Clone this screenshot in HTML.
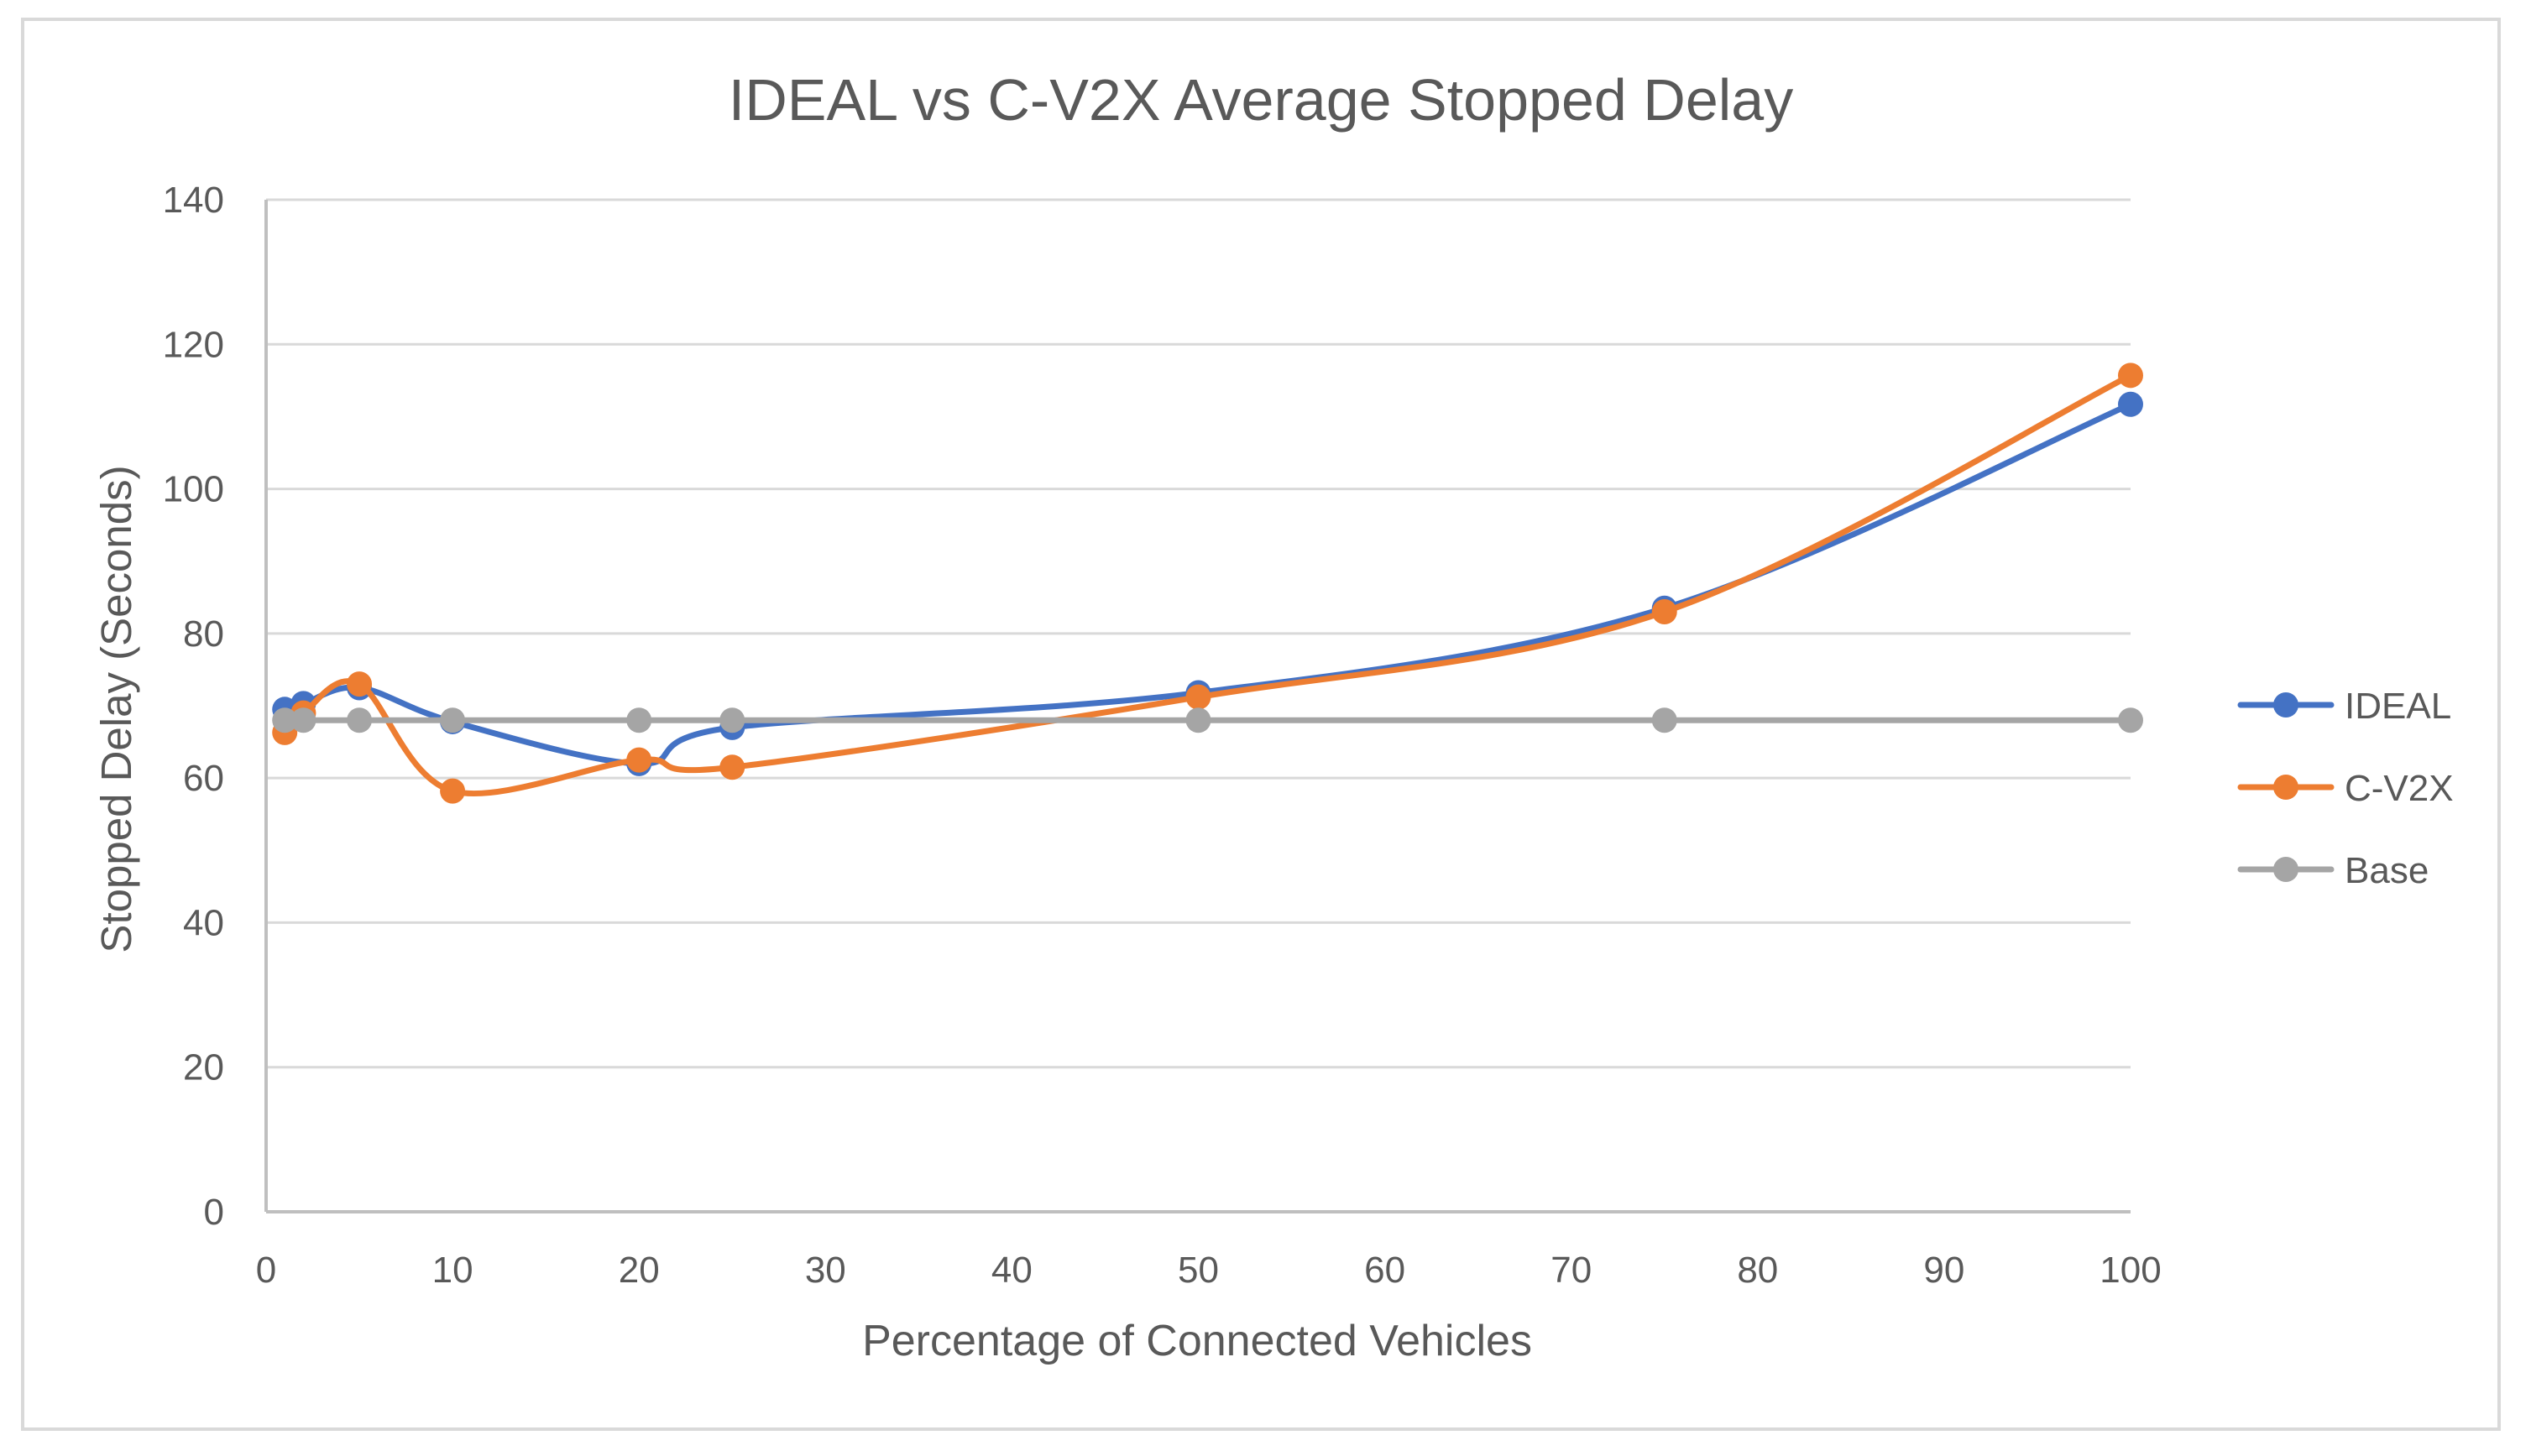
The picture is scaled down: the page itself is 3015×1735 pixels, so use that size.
<!DOCTYPE html>
<html><head><meta charset="utf-8"><style>
html,body{margin:0;padding:0;background:#fff;}
svg{display:block;}
text{font-family:"Liberation Sans",sans-serif;fill:#595959;}
</style></head><body>
<svg id="chart" width="3015" height="1735" viewBox="0 0 3015 1735">
<rect x="27" y="23" width="2950" height="1680" fill="#fff" stroke="#d9d9d9" stroke-width="4"/>
<text x="1502" y="143" font-size="70" text-anchor="middle">IDEAL vs C-V2X Average Stopped Delay</text>
<g id="grid"></g>
<g id="series"></g>
<text x="1426" y="1615" font-size="52" text-anchor="middle">Percentage of Connected Vehicles</text>
<text transform="translate(156,845) rotate(-90)" font-size="51" text-anchor="middle">Stopped Delay (Seconds)</text>
<g id="legend"></g>
</svg>
<script>
const xValues=[1,2,5,10,20,25,50,75,100];
const idealValues=[69.5,70.3,72.5,67.8,62,67,71.8,83.5,111.7];
const cv2xValues=[66.3,69,73,58.2,62.5,61.5,71.2,83,115.7];
const baseValues=[68,68,68,68,68,68,68,68,68];
const xTicks=[0,10,20,30,40,50,60,70,80,90,100];
const yTicks=[0,20,40,60,80,100,120,140];
const seriesNames=["IDEAL","C-V2X","Base"];

const NS="http://www.w3.org/2000/svg";
const L=317,R=2538,T=238,B=1444;
const sx=v=>L+(v-0)/(100-0)*(R-L);
const sy=v=>B-(v-0)/(140-0)*(B-T);
function mk(tag,attrs,parent){const e=document.createElementNS(NS,tag);for(const k in attrs)e.setAttribute(k,attrs[k]);parent.appendChild(e);return e;}
const grid=document.getElementById('grid');
yTicks.forEach(t=>{
  const ln=mk('line',{x1:L,x2:R,y1:sy(t),y2:sy(t),stroke:t===0?'#bfbfbf':'#d9d9d9','stroke-width':t===0?4:3},grid);
  
  
  const tx=mk('text',{x:267,y:sy(t)+15,'font-size':44,'text-anchor':'end'},grid);
  tx.textContent=t;
  
  
});
const ax=mk('line',{x1:L,x2:L,y1:T,y2:B,stroke:'#bfbfbf','stroke-width':4},grid);


xTicks.forEach(t=>{
  const tx=mk('text',{x:sx(t),y:1528,'font-size':44,'text-anchor':'middle'},grid);
  tx.textContent=t;
  
  
});
function smooth(pts){
  let d=`M${pts[0][0]},${pts[0][1]}`;
  for(let i=0;i<pts.length-1;i++){
    const p0=pts[Math.max(0,i-1)],p1=pts[i],p2=pts[i+1],p3=pts[Math.min(pts.length-1,i+2)];
    const c1=[p1[0]+(p2[0]-p0[0])/6,p1[1]+(p2[1]-p0[1])/6];
    const c2=[p2[0]-(p3[0]-p1[0])/6,p2[1]-(p3[1]-p1[1])/6];
    d+=` C${c1[0]},${c1[1]} ${c2[0]},${c2[1]} ${p2[0]},${p2[1]}`;
  }
  return d;
}
const colors=['#4472c4','#ed7d31','#a5a5a5'];
const allSeries=[idealValues,cv2xValues,baseValues];
const sg=document.getElementById('series');
[0,1,2].forEach(si=>{
  const vals=allSeries[si];
  const pts=xValues.map((x,i)=>[sx(x),sy(vals[i])]);
  const p=mk('path',{d:smooth(pts),fill:'none',stroke:colors[si],'stroke-width':7,'stroke-linecap':'round'},sg);
  
  
  pts.forEach(pt=>{
    const c=mk('circle',{cx:pt[0],cy:pt[1],r:15,fill:colors[si]},sg);
    
    
  });
});
const lg=document.getElementById('legend');
const legY=[840,938,1036];
seriesNames.forEach((n,i)=>{
  const g=mk('g',{},lg);
  
  
  mk('line',{x1:2669,x2:2777,y1:legY[i],y2:legY[i],stroke:colors[i],'stroke-width':7,'stroke-linecap':'round'},g);
  mk('circle',{cx:2723,cy:legY[i],r:15,fill:colors[i]},g);
  const t=mk('text',{x:2793,y:legY[i]+16,'font-size':44},g);
  t.textContent=n;
});
</script>
</body></html>
